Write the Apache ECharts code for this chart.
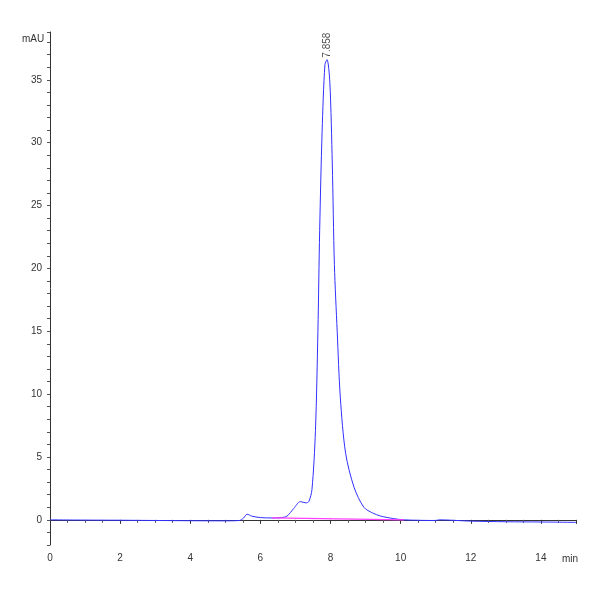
<!DOCTYPE html>
<html><head><meta charset="utf-8">
<script src="https://cdn.jsdelivr.net/npm/echarts@6/dist/echarts.min.js"></script>
<style>html,body{margin:0;padding:0;background:#fff}#c{width:600px;height:600px}</style>
</head><body><div id="c"></div>
<script>
const signalTimes = [0,1,2,3,4,5,5.4,5.52,5.62,5.75,6.0,6.33,6.6,6.76,6.95,7.14,7.3,7.38,7.47,7.57,7.64,7.69,7.76,7.84,7.9,7.98,8.05,8.11,8.19,8.28,8.43,8.67,8.95,9.2,9.43,9.8,10.1,11,11.1,12,13,14,15];
const signalValues = [0,-0.02,-0.03,-0.05,-0.07,-0.08,-0.05,0.15,0.45,0.3,0.18,0.15,0.18,0.3,0.9,1.45,1.35,1.45,2.4,7.1,15,23,30.9,36.2,36.6,34.8,28.3,20.3,15,9.7,5.3,2.6,1.0,0.55,0.3,0.1,0.0,-0.05,0.0,-0.1,-0.15,-0.17,-0.2];
const baselineTimes = [6.33,10.1];
const baselineValues = [0.15,0.0];
const peakLabel = "7.858";
const peakTime = 7.9, peakValue = 36.6;
const ch = echarts.init(document.getElementById('c'));
const axisStyle = {color:'#333',fontSize:10,fontFamily:'Liberation Sans'};
ch.setOption({
  animation:false,
  grid:{left:50,right:24,top:32,bottom:55},
  xAxis:{type:'value',min:0,max:15,interval:2,name:'min',nameLocation:'end',nameGap:-14,
    nameTextStyle:{fontSize:10,color:'#333',padding:[34,0,0,0],verticalAlign:'top'},
    axisLine:{lineStyle:{color:'#333'}},axisTick:{length:4,lineStyle:{color:'#333'}},
    minorTick:{show:true,splitNumber:4,length:3,lineStyle:{color:'#555'}},
    splitLine:{show:false},axisLabel:{...axisStyle,formatter:v=>v>14?'':v}},
  yAxis:{type:'value',min:-2,max:38.8,interval:1,
    axisLine:{show:true,lineStyle:{color:'#333'}},axisTick:{show:true,length:3,lineStyle:{color:'#555'}},
    splitLine:{show:false},
    axisLabel:{...axisStyle,interval:0,formatter:v=>(v%5===0&&v>=0)?String(v):''}},
  graphic:[{type:'text',left:22,top:34,style:{text:'mAU',fontSize:10,fill:'#333',fontFamily:'Liberation Sans'}}],
  series:[
    {type:'line',data:signalTimes.map((t,i)=>[t,signalValues[i]]),smooth:0.3,symbol:'none',
      lineStyle:{color:'#3030ff',width:1},z:3},
    {type:'line',data:baselineTimes.map((t,i)=>[t,baselineValues[i]]),symbol:'none',
      lineStyle:{color:'#ff40ff',width:1.2},z:4},
    {type:'scatter',data:[[peakTime,peakValue]],symbolSize:0,
      label:{show:true,formatter:peakLabel,rotate:90,position:'top',distance:2,fontSize:10,color:'#222',align:'left',verticalAlign:'middle'}}
  ]
});
</script></body></html>
